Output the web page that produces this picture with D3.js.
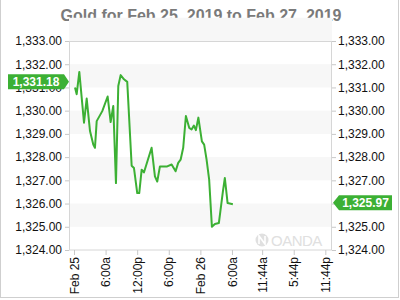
<!DOCTYPE html>
<html>
<head>
<meta charset="utf-8">
<script src="https://cdn.jsdelivr.net/npm/d3@7"></script>
<style>
  body { margin: 0; background: #fff; }
  svg { font-family: "Liberation Sans", Arial, sans-serif; display: block; }
</style>
</head>
<body>
<script>
// hours since Feb 25 00:00 and gold price
var hours = [0.19, 0.51, 1.01, 1.90, 2.41, 3.04, 3.66, 3.98, 4.31, 5.37, 6.39, 6.96, 7.46, 7.97, 8.41,
    8.86, 9.49, 10.11, 10.95, 11.39, 12.01, 12.39, 12.85, 13.28, 14.74, 15.37, 15.81, 16.32, 17.70,
    18.54, 19.30, 19.79, 20.25, 20.74, 21.25, 21.88, 22.33, 22.77, 23.15, 23.62, 24.29, 24.72, 25.18,
    25.67, 26.19, 26.76, 27.51, 28.27, 28.65, 29.17, 30.17];
var prices = [1331.00, 1330.71, 1331.67, 1329.48, 1330.52, 1329.12, 1328.54, 1328.40, 1329.55, 1329.98,
    1330.61, 1329.51, 1330.20, 1326.88, 1331.06, 1331.53, 1331.35, 1331.24, 1327.63, 1327.53, 1326.45,
    1326.45, 1327.46, 1327.34, 1328.40, 1327.17, 1326.95, 1327.60, 1327.60, 1327.68, 1327.39, 1327.75,
    1327.89, 1328.40, 1329.77, 1329.26, 1329.19, 1329.36, 1329.16, 1329.70, 1328.68, 1328.54, 1327.89,
    1327.03, 1325.00, 1325.12, 1325.16, 1326.50, 1327.10, 1326.02, 1325.97];
var xTickValues = [0, 6, 12, 18, 24, 30, 35.73, 41.73, 47.73];
var xTickLabels = ["Feb 25", "6:00a", "12:00p", "6:00p", "Feb 26", "6:00a", "11:44a", "5:44p", "11:44p"];
var yTicks = [1324, 1325, 1326, 1327, 1328, 1329, 1330, 1331, 1332, 1333];
var leftValue = 1331.18;
var lastValue = 1325.97;

var green = "#3cb034";
var svg = d3.select("body").append("svg")
    .attr("width", 400)
    .attr("height", 300);

var x = d3.scaleLinear().domain([-0.95, 49]).range([69, 332]);
var y = d3.scaleLinear().domain([1324, 1333]).range([250, 41]);
var fmt = d3.format(",.2f");

// outer frame
svg.append("rect")
    .attr("x", 0.5).attr("y", -1)
    .attr("width", 398).attr("height", 298.5)
    .attr("fill", "none").attr("stroke", "#cfcfcf");

svg.append("text")
    .attr("x", 201).attr("y", 21)
    .attr("text-anchor", "middle")
    .attr("fill", "#7a7a7a")
    .style("font-family", "Arial, 'Liberation Sans', sans-serif")
    .style("font-size", "16px").style("font-weight", "bold")
    .text("Gold for Feb 25, 2019 to Feb 27, 2019");

// alternating bands
svg.append("g").selectAll("rect")
    .data(yTicks.filter(function (d) { return d % 2 === 1; }))
    .enter().append("rect")
    .attr("x", x.range()[0]).attr("width", x.range()[1] - x.range()[0])
    .attr("y", function (d) { return y(d + 1); })
    .attr("height", function (d) { return y(d) - y(d + 1); })
    .attr("fill", "#f7f7f7");

// watermark
var wm = svg.append("g").attr("transform", "translate(262,240)").attr("fill", "#e0e0e0");
wm.append("circle").attr("r", 6.5);
wm.append("path").attr("d", "M-3,4 L-3,-4 L3,4 L3,-4").attr("stroke", "#fff").attr("stroke-width", 1.6).attr("fill", "none");
wm.append("text").attr("x", 9).attr("y", 5.5)
    .style("font-size", "15px").style("letter-spacing", "-0.5px").text("OANDA");

// plot frame
svg.append("rect")
    .attr("x", 69.5).attr("y", 41.5)
    .attr("width", 262).attr("height", 208.5)
    .attr("fill", "none").attr("stroke", "#d6d6d6");

function styleAxis(g) {
    g.select(".domain").remove();
    g.selectAll(".tick line").attr("stroke", "#c8c8c8");
    g.selectAll("text").attr("fill", "#111").style("font-size", "12px")
        .style("font-family", "'Liberation Sans', Arial, sans-serif");
}

svg.append("g")
    .attr("transform", "translate(69,0)")
    .call(d3.axisLeft(y).tickValues(yTicks).tickFormat(fmt).tickSize(4).tickPadding(3))
    .call(styleAxis);

// the last-value flag hides the right label it sits on
svg.append("g")
    .attr("transform", "translate(332,0)")
    .call(d3.axisRight(y).tickValues(yTicks).tickFormat(fmt).tickSize(4).tickPadding(2))
    .call(styleAxis)
    .selectAll(".tick text")
    .filter(function (d) { return Math.abs(y(d) - y(lastValue)) < 8; })
    .remove();

svg.append("g")
    .attr("transform", "translate(0,250)")
    .call(d3.axisBottom(x).tickValues(xTickValues)
        .tickFormat(function (d, i) { return xTickLabels[i]; }).tickSize(5).tickPadding(3))
    .call(styleAxis)
    .selectAll("text")
    .attr("transform", "rotate(-90)")
    .attr("text-anchor", "end")
    .attr("x", -7).attr("y", 0).attr("dy", "0.35em");

// price line
var line = d3.line()
    .x(function (d, i) { return x(hours[i]); })
    .y(function (d) { return y(d); });

svg.append("path")
    .datum(prices)
    .attr("d", line)
    .attr("fill", "none")
    .attr("stroke", green)
    .attr("stroke-width", 2)
    .attr("stroke-linejoin", "round");

// value flags
function flag(value, side) {
    var cy = y(value) - 1.5, h = 7.5;
    var g = svg.append("g");
    if (side === "left") {
        var tip = 69, bx = 8;
        g.append("path")
            .attr("d", "M" + bx + "," + (cy - h) + "H" + (tip - 5) + "L" + tip + "," + cy +
                "L" + (tip - 5) + "," + (cy + h) + "H" + bx + "Z")
            .attr("fill", green);
        g.append("text").attr("x", (bx + tip - 5) / 2).attr("y", cy + 4.5)
            .attr("text-anchor", "middle").attr("fill", "#fff")
            .style("font-size", "12px").style("font-weight", "bold").text(fmt(value));
    } else {
        var tip2 = 333, ex = 392;
        g.append("path")
            .attr("d", "M" + tip2 + "," + cy + "L" + (tip2 + 6) + "," + (cy - h) + "H" + ex +
                "V" + (cy + h) + "H" + (tip2 + 6) + "Z")
            .attr("fill", green);
        g.append("text").attr("x", (tip2 + 6 + ex) / 2).attr("y", cy + 4.5)
            .attr("text-anchor", "middle").attr("fill", "#fff")
            .style("font-size", "12px").style("font-weight", "bold").text(fmt(value));
    }
}
flag(leftValue, "left");
flag(lastValue, "right");
</script>
</body>
</html>
